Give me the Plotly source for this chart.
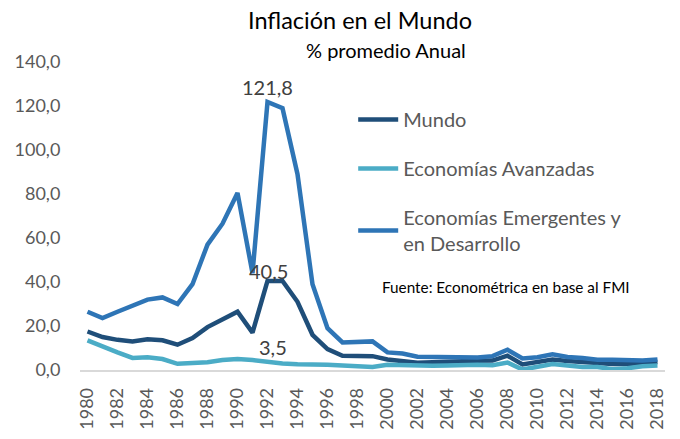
import plotly.graph_objects as go

years = list(range(1980, 2019))
tick_years = years[::2]

mundo = [17.5, 15.0, 13.7, 13.0, 14.0, 13.5, 11.5, 14.5, 19.5, 23.0, 26.5, 17.0, 40.5, 40.5, 31.0,
         16.0, 9.5, 6.5, 6.5, 6.3, 4.8, 4.3, 3.3, 3.5, 3.9, 3.9, 4.2, 4.3, 6.5, 2.5,
         3.5, 4.8, 4.1, 3.6, 3.2, 2.7, 2.7, 3.2, 3.6]

avanzadas = [13.5, 10.5, 8.0, 5.5, 5.8, 5.0, 2.8, 3.2, 3.5, 4.5, 5.0, 4.5, 3.5, 3.0, 2.6,
             2.6, 2.4, 2.0, 1.6, 1.4, 2.4, 2.2, 1.6, 1.9, 2.0, 2.3, 2.4, 2.2, 3.4, 0.2,
             1.5, 2.7, 2.0, 1.4, 1.4, 0.3, 0.8, 1.7, 2.0]

emergentes = [26.5, 23.6, 26.5, 29.5, 32.0, 33.0, 30.0, 39.0, 57.0, 66.5, 80.5, 44.0, 121.8, 119.0, 89.0,
              39.0, 19.0, 12.5, 13.0, 13.0, 8.0, 7.5, 6.0, 6.0, 5.7, 5.6, 5.7, 6.3, 9.2, 5.2,
              5.8, 7.1, 5.9, 5.5, 4.7, 4.7, 4.3, 4.3, 4.8]

names = ["Mundo", "Economías Avanzadas", "Economías Emergentes y<br>en Desarrollo"]
colors = ["#1F4E79", "#4BACC6", "#2E75B6"]
label_year = 1992

FONT = "Lato"
GREY = "#595959"

fig = go.Figure()
for i, (name, vals, col) in enumerate(zip(names, [mundo, avanzadas, emergentes], colors)):
    fig.add_trace(go.Scatter(x=years, y=vals, mode="lines", name=name,
                             line=dict(color=col, width=4.5), legendgroup=str(i)))

idx = years.index(label_year)
for vals, xs, ys in [(emergentes, 0, 15), (mundo, 1, 10), (avanzadas, 5, 15)]:
    fig.add_annotation(x=label_year, y=vals[idx], text=f"{vals[idx]:.1f}".replace(".", ","),
                       showarrow=False, yshift=ys, xshift=xs,
                       font=dict(size=20, color="#404040", family=FONT))

fig.add_annotation(xref="paper", yref="paper", x=0.513, y=0.269, xanchor="left", yanchor="middle",
                   text="Fuente: Econométrica en base al FMI", showarrow=False,
                   font=dict(size=15.3, color="#000000", family=FONT))

fig.add_annotation(xref="paper", yref="paper", x=0.479, y=1.136, xanchor="center", yanchor="middle",
                   text="Inflación en el Mundo", showarrow=False,
                   font=dict(size=23.5, color="#000000", family=FONT))
fig.add_annotation(xref="paper", yref="paper", x=0.523, y=1.039, xanchor="center", yanchor="middle",
                   text="% promedio Anual", showarrow=False,
                   font=dict(size=20, color="#000000", family=FONT))

fig.update_layout(
    width=680, height=439,
    margin=dict(l=80, r=15, t=62, b=69),
    paper_bgcolor="white", plot_bgcolor="white",
    separators=",.",
    font=dict(family=FONT, color=GREY),
    legend=dict(x=0.467, y=0.877, xanchor="left", yanchor="top",
                font=dict(size=20, color=GREY, family=FONT),
                tracegroupgap=20, traceorder="grouped", itemwidth=40,
                bgcolor="rgba(0,0,0,0)"),
    showlegend=True,
)
fig.update_xaxes(range=[1979.5, 2018.5], tickangle=-90, tickfont=dict(size=18, color=GREY),
                 tickvals=tick_years, ticktext=[str(y) for y in tick_years], automargin=False,
                 showgrid=False, showline=True, linecolor="#D9D9D9", zeroline=False,
                 linewidth=1.5, ticks="outside", ticklen=9, tickcolor="white")
fig.update_yaxes(range=[0, 140], dtick=20, tickformat=".1f", showgrid=False, zeroline=False,
                 automargin=False,
                 tickfont=dict(size=18, color=GREY), ticks="outside", ticklen=15, tickcolor="white")

fig.write_html("out.html", config={"displayModeBar": False},
               post_script="document.body.style.margin='0';")
